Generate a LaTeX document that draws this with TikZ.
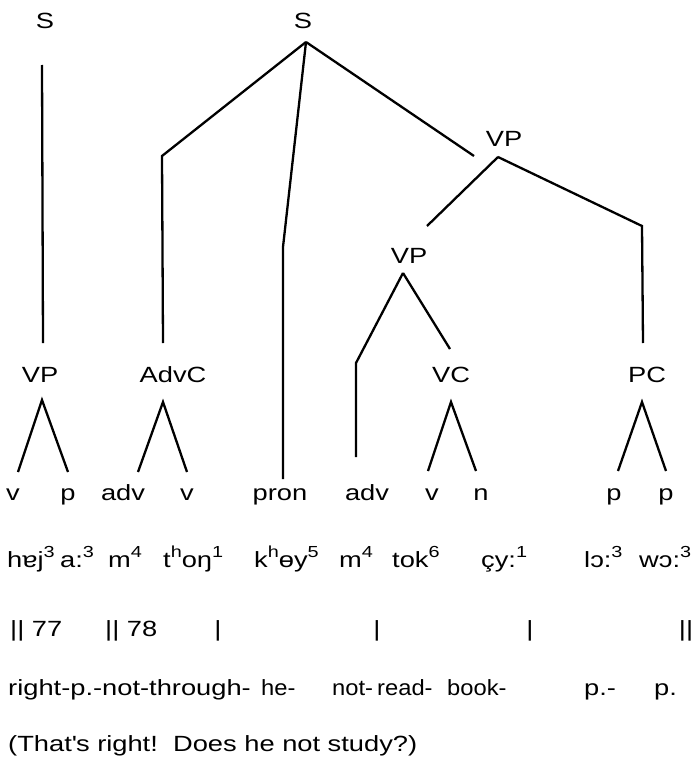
\documentclass[tikz,border=0pt]{standalone}
\usepackage{fontspec}
\setmainfont[FakeStretch=1.24]{Liberation Sans}
\usetikzlibrary{positioning}
\newcommand\tonesup[1]{\raisebox{0.42em}{\fontsize{16}{16}\selectfont #1}}
\newcommand\narrowword[1]{\scalebox{0.87}[1]{#1}}
\tikzset{
  branch/.style={line width=2.3pt,line join=miter},
  lab/.style={inner sep=0pt,anchor=base,font=\fontsize{22}{26}\selectfont},
  word/.style={lab,anchor=base west},
}

\begin{document}
\begin{tikzpicture}[x=1pt,y=-1pt]
  \useasboundingbox (0,0) rectangle (696,760);
  % categories
  \node[lab] (sL) at (45,29) {S};
  \node[lab] (sM) at (303,29) {S};
  \node[lab] (vpA) at (504,146) {VP};
  \node[lab] (vpB) at (409,263) {VP};
  \node[lab] (vpL) at (40,382) {VP};
  \node[lab] (advc) at (173,382) {AdvC};
  \node[lab] (vc) at (451,382) {VC};
  \node[lab] (pc) at (647,382) {PC};
  % word classes
  \foreach \x/\t/\n in {13/v/wcA,68/p/wcB,123/adv/wcC,187/v/wcD,280/pron/wcE,
      367/adv/wcF,432/v/wcG,481/n/wcH,614/p/wcI,666/p/wcJ}
    \node[lab] (\n) at (\x,500) {\t};
  % branch points
  \coordinate (sLtop) at (42,65);
  \coordinate (sMtop) at (306,42);
  \coordinate (vpAtop) at (498,157);
  \coordinate (vpBtop) at (403,273);
  \coordinate (advBend) at (162,156);
  \coordinate (pronBend) at (283,247);
  \coordinate (vpAin) at (474,156);
  \coordinate (vpBin) at (427,226);
  \coordinate (pcBend) at (642,226);
  \coordinate (advBend2) at (356,363);
  \coordinate (vpLin) at (43,343);
  \coordinate (advcIn) at (163,343);
  \coordinate (pcIn) at (643,343);
  \coordinate (vcIn) at (450,349);
  \coordinate (pronIn) at (283,479);
  \coordinate (advIn) at (356,457);
  \coordinate (vpLtop) at (42,400);
  \coordinate (advcTop) at (163,402);
  \coordinate (vcTop) at (451,402);
  \coordinate (pcTop) at (642,402);
  % tree
  \draw[branch] (sLtop) -- (vpLin);
  \draw[branch] (sMtop) -- (advBend) -- (advcIn);
  \draw[branch] (sMtop) -- (pronBend) -- (pronIn);
  \draw[branch] (sMtop) -- (vpAin);
  \draw[branch] (vpAtop) -- (vpBin);
  \draw[branch] (vpAtop) -- (pcBend) -- (pcIn);
  \draw[branch] (vpBtop) -- (advBend2) -- (advIn);
  \draw[branch] (vpBtop) -- (vcIn);
  \draw[branch] (18,472) -- (vpLtop) -- (68,472);
  \draw[branch] (138,472) -- (advcTop) -- (187,472);
  \draw[branch] (428,471) -- (vcTop) -- (476,471);
  \draw[branch] (618,471) -- (pcTop) -- (666,471);
  % transcription
  \node[word] (ph1) at (7,567) {hɐj\tonesup{3}};
  \node[word] (ph2) at (60,567) {a:\tonesup{3}};
  \node[word] (ph3) at (108,567) {m\tonesup{4}};
  \node[word] (ph4) at (163,567) {t\tonesup{h}oŋ\tonesup{1}};
  \node[word] (ph5) at (254,567) {k\tonesup{h}ɵy\tonesup{5}};
  \node[word] (ph6) at (339,567) {m\tonesup{4}};
  \node[word] (ph7) at (392,567) {tok\tonesup{6}};
  \node[word] (ph8) at (481,567) {çy:\tonesup{1}};
  \node[word] (ph9) at (584,567) {lɔ:\tonesup{3}};
  \node[word] (ph10) at (639,567) {wɔ:\tonesup{3}};
  % boundaries
  \node[word] (bd1) at (10,636) {|| 77};
  \node[word] (bd2) at (105,636) {|| 78};
  \node[lab] (bd3) at (218,636) {|};
  \node[lab] (bd4) at (377,636) {|};
  \node[lab] (bd5) at (530,636) {|};
  \node[lab] (bd6) at (686,636) {||};
  % gloss
  \node[word] (gl1) at (8,695) {right-p.-not-through-};
  \node[word] (gl2) at (261,695) {\narrowword{he-}};
  \node[word] (gl3) at (332,695) {\narrowword{not-}};
  \node[word] (gl4) at (377,695) {\narrowword{read-}};
  \node[word] (gl5) at (447,695) {\narrowword{book-}};
  \node[word] (gl6) at (584,695) {p.-};
  \node[word] (gl7) at (654,695) {p.};
  \node[word] (trans) at (8,751) {(That\textquotesingle s right!\ \ Does he not study?)};
\end{tikzpicture}
\end{document}
